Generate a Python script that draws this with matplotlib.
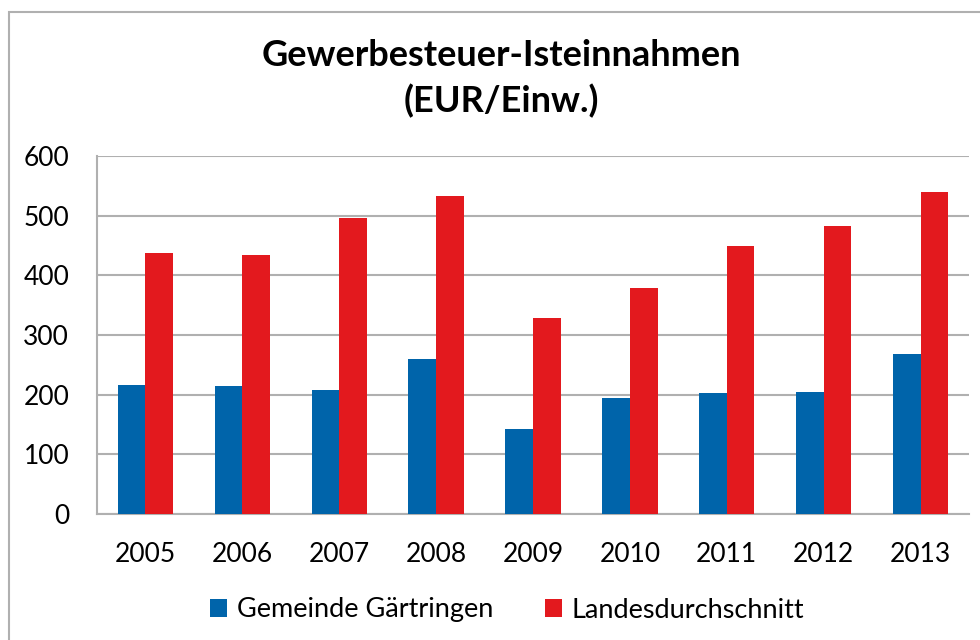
import numpy as np
import matplotlib
matplotlib.use("Agg")
import matplotlib.pyplot as plt
from matplotlib.patches import Rectangle

years = ["2005", "2006", "2007", "2008", "2009", "2010", "2011", "2012", "2013"]
gaertringen = [216, 214, 208, 260, 142, 195, 202, 204, 268]
land = [437, 434, 496, 533, 328, 379, 449, 482, 539]
series_names = ["Gemeinde Gärtringen", "Landesdurchschnitt"]

BLUE = "#0064aa"
RED = "#e3191e"
GRID = "#b0b0b0"

plt.rcParams['font.family'] = ['Lato', 'DejaVu Sans']

W, H = 980, 640
fig = plt.figure(figsize=(W / 100, H / 100), dpi=100)

# outer chart frame (right and bottom edges fall outside the picture)
fig.patches.append(Rectangle((9 / W, -0.05), 1.0, (H - 12) / H + 0.05,
                             transform=fig.transFigure, fill=False,
                             edgecolor=GRID, lw=1.5))

# plot area in pixels
x0, x1, ytop, ybot = 97, 969, 156, 514
ax = fig.add_axes([x0 / W, 1 - ybot / H, (x1 - x0) / W, (ybot - ytop) / H])

x = np.arange(len(years))
w = 0.285
ax.bar(x - w / 2, gaertringen, w, color=BLUE, label=series_names[0], zorder=3)
ax.bar(x + w / 2, land, w, color=RED, label=series_names[1], zorder=3)

ax.set_xlim(-0.5, len(years) - 0.5)
ax.set_ylim(0, 600)
ax.set_yticks(range(0, 601, 100))
ax.set_xticks(x)
ax.set_xticklabels(years)
ax.yaxis.grid(True, color=GRID, lw=1.5, zorder=0)
ax.tick_params(length=0, labelsize=19, colors="black")
ax.tick_params(axis="x", pad=20)
ax.tick_params(axis="y", pad=20)
for s in ["top", "right"]:
    ax.spines[s].set_visible(False)
for s in ["left", "bottom"]:
    ax.spines[s].set_color(GRID)
    ax.spines[s].set_linewidth(1.5)

fig.text(501 / W, 1 - 66 / H, "Gewerbesteuer-Isteinnahmen", ha="center", va="baseline",
         fontsize=26, fontweight="bold")
fig.text(501 / W, 1 - 112 / H, "(EUR/Einw.)", ha="center", va="baseline",
         fontsize=26, fontweight="bold")

fig.legend(loc="center", bbox_to_anchor=(507 / W, 1 - 610 / H), ncol=2, frameon=False,
           fontsize=19.5, handlelength=0.63, handleheight=0.63, handletextpad=0.37,
           columnspacing=1.9, borderpad=0)

fig.savefig("out.png", dpi=100)
